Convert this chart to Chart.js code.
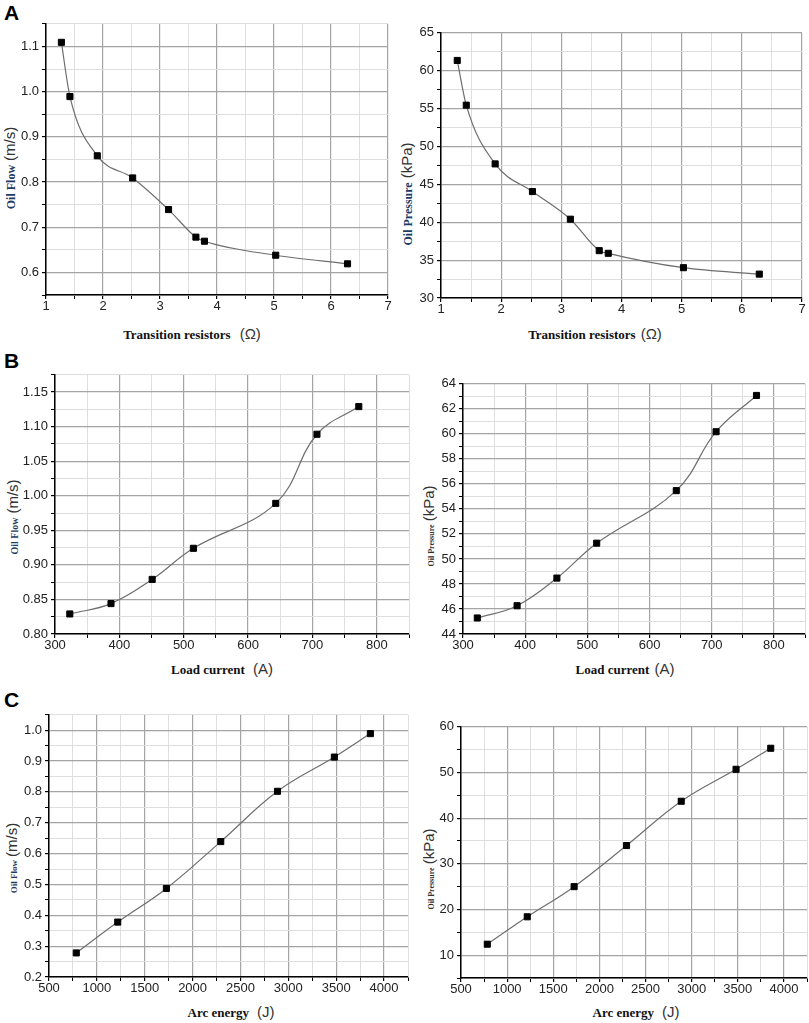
<!DOCTYPE html>
<html><head><meta charset="utf-8">
<script src="https://cdn.jsdelivr.net/npm/chart.js@4.4.1/dist/chart.umd.min.js"></script>
<style>
html,body{margin:0;padding:0;background:#fff;width:809px;height:1023px;overflow:hidden;position:relative;}
canvas{position:absolute;}
.lbl{position:absolute;white-space:nowrap;line-height:1;}
.panel{font-family:'Liberation Sans',Arial,sans-serif;font-weight:bold;font-size:21px;color:#000;}
.xt{transform:translate(-50%,-50%);color:#111;}
.yt{transform:translate(-50%,-50%) rotate(-90deg);}
.serif{font-family:'Liberation Serif','Times New Roman',serif;font-weight:bold;}
.sans{font-family:'Liberation Sans',Arial,sans-serif;color:#333;}
.navy{color:#1c3a63;}
.brown{color:#3a2c20;}
</style></head><body>
<div class="lbl panel" style="left:4px;top:2px">A</div>
<div class="lbl panel" style="left:4px;top:350px">B</div>
<div class="lbl panel" style="left:4px;top:689px">C</div>

<div class="lbl xt" style="left:192px;top:334px"><span class="serif" style="font-size:13px">Transition resistors</span><span class="sans" style="font-size:15px;margin-left:9px">(Ω)</span></div>
<div class="lbl xt" style="left:595px;top:334px"><span class="serif" style="font-size:13px">Transition resistors</span><span class="sans" style="font-size:15px;margin-left:5px">(Ω)</span></div>
<div class="lbl xt" style="left:222px;top:669px"><span class="serif" style="font-size:13px">Load current</span><span class="sans" style="font-size:15px;margin-left:8px">(A)</span></div>
<div class="lbl xt" style="left:625px;top:669px"><span class="serif" style="font-size:13px">Load current</span><span class="sans" style="font-size:15px;margin-left:5px">(A)</span></div>
<div class="lbl xt" style="left:231px;top:1012px"><span class="serif" style="font-size:13px">Arc energy</span><span class="sans" style="font-size:15px;margin-left:8px">(J)</span></div>
<div class="lbl xt" style="left:636px;top:1012px"><span class="serif" style="font-size:13px">Arc energy</span><span class="sans" style="font-size:15px;margin-left:8px">(J)</span></div>

<div class="lbl yt" style="left:10px;top:168px"><span class="serif navy" style="font-size:12px">Oil Flow</span><span class="sans" style="font-size:15px;margin-left:4px">(m/s)</span></div>
<div class="lbl yt" style="left:407px;top:194px"><span class="serif navy" style="font-size:12px">Oil Pressure</span><span class="sans" style="font-size:15px;margin-left:4px">(kPa)</span></div>
<div class="lbl yt" style="left:13px;top:517px"><span class="serif navy" style="font-size:10px">Oil Flow</span><span class="sans" style="font-size:15px;margin-left:4px">(m/s)</span></div>
<div class="lbl yt" style="left:429px;top:526px"><span class="serif brown" style="font-size:8px">Oil Pressure</span><span class="sans" style="font-size:15px;margin-left:3px">(kPa)</span></div>
<div class="lbl yt" style="left:12px;top:858px"><span class="serif navy" style="font-size:9px">Oil Flow</span><span class="sans" style="font-size:15px;margin-left:3px">(m/s)</span></div>
<div class="lbl yt" style="left:429px;top:869px"><span class="serif brown" style="font-size:8px">Oil Pressure</span><span class="sans" style="font-size:15px;margin-left:3px">(kPa)</span></div>

<script>
// ---- Data ----
const aResistance   = [1.27, 1.42, 1.90, 2.52, 3.15, 3.63, 3.78, 5.03, 6.29];
const aOilFlow      = [1.109, 0.989, 0.858, 0.809, 0.739, 0.678, 0.669, 0.638, 0.619];
const aOilPressure  = [61.35, 55.45, 47.7, 44.05, 40.4, 36.25, 35.9, 34.0, 33.15];

const bLoadCurrent  = [323, 387, 451, 515, 643, 707, 772];
const bOilFlow      = [0.829, 0.844, 0.879, 0.924, 0.989, 1.089, 1.129];
const bOilPressure  = [45.28, 46.26, 48.47, 51.26, 55.46, 60.17, 63.07];

const cArcEnergy    = [785, 1218, 1726, 2294, 2887, 3481, 3857];
const cOilFlow      = [0.278, 0.378, 0.487, 0.639, 0.802, 0.913, 0.989];
const cOilPressure  = [12.4, 18.4, 25.0, 34.0, 43.7, 50.7, 55.3];

// ---- Layout / styling ----
const Y_W = 45, X_H = 22, PAD_T = 10, PAD_R = 22;
Chart.defaults.font.family = "'Liberation Sans', Arial, sans-serif";
Chart.defaults.font.size = 13;
Chart.defaults.color = '#222';

function isMajor(v, major){ const r = v/major; return Math.abs(r - Math.round(r)) < 1e-6; }

const panels = [
  {xs:aResistance, ys:aOilFlow,     smooth:'monotone', area:[46,388,23,295],  x:{min:1,max:7,minor:0.5,major:1,dec:0},     y:{min:0.55,max:1.15,minor:0.05,major:0.1,dec:1}},
  {xs:aResistance, ys:aOilPressure, smooth:'monotone', area:[441,802,32,298], x:{min:1,max:7,minor:0.5,major:1,dec:0},     y:{min:30,max:65,minor:2.5,major:5,dec:0}},
  {xs:bLoadCurrent, ys:bOilFlow,    smooth:'default',  area:[55,409,374,634], x:{min:300,max:850,minor:50,major:100,dec:0}, y:{min:0.8,max:1.175,minor:0.025,major:0.05,dec:2}},
  {xs:bLoadCurrent, ys:bOilPressure,smooth:'default',  area:[463,805,383,634],x:{min:300,max:850,minor:50,major:100,dec:0}, y:{min:44,max:64,minor:1,major:2,dec:0}},
  {xs:cArcEnergy, ys:cOilFlow,      smooth:'default',  area:[49,408,714,977], x:{min:500,max:4250,minor:250,major:500,dec:0}, y:{min:0.2,max:1.05,minor:0.05,major:0.1,dec:1}},
  {xs:cArcEnergy, ys:cOilPressure,  smooth:'default',  area:[461,807,726,978],x:{min:500,max:4250,minor:250,major:500,dec:0}, y:{min:5,max:60,minor:5,major:10,dec:0}}
];

function axis(spec, horizontal){
  return {
    type:'linear', min:spec.min, max:spec.max,
    border:{display:true, color:'#000', width:1.5},
    grid:{
      color:(ctx)=> (ctx.tick && isMajor(ctx.tick.value, spec.major)) ? '#a4a4a4' : '#dedede',
      lineWidth:(ctx)=> (ctx.tick && isMajor(ctx.tick.value, spec.major)) ? 1.2 : 1,
      tickColor:'#000', tickLength:4, drawTicks:true
    },
    ticks:{
      stepSize:spec.minor, maxTicksLimit:1000, autoSkip:false, maxRotation:0,
      padding: horizontal ? 0 : 3,
      color:'#222',
      callback:(v)=> isMajor(v, spec.major) ? Number(v).toFixed(spec.dec) : ''
    },
    afterFit:(scale)=>{ if(horizontal) scale.height = X_H; else scale.width = Y_W; }
  };
}

panels.forEach(p=>{
  const [L,R,T,B] = p.area;
  const w = (R-L) + Y_W + PAD_R;
  const h = (B-T) + PAD_T + X_H;
  const c = document.createElement('canvas');
  c.width = w; c.height = h;
  c.style.width = w+'px'; c.style.height = h+'px';
  c.style.left = (L-Y_W)+'px'; c.style.top = (T-PAD_T)+'px';
  document.body.appendChild(c);
  new Chart(c, {
    type:'line',
    data:{datasets:[{
      data:p.xs.map((x,i)=>({x:x, y:p.ys[i]})),
      borderColor:'#6e6e6e', borderWidth:1.2,
      cubicInterpolationMode:p.smooth, tension:0.4,
      pointStyle:'rect', pointRadius:4.3, pointBackgroundColor:'#000', pointBorderColor:'#000', pointBorderWidth:1,
      fill:false, clip:false
    }]},
    options:{
      responsive:false, animation:false,
      layout:{padding:{top:PAD_T, right:PAD_R, left:0, bottom:0}},
      plugins:{legend:{display:false}, tooltip:{enabled:false}},
      scales:{ x:axis(p.x,true), y:axis(p.y,false) }
    }
  });
});
</script>
</body></html>
